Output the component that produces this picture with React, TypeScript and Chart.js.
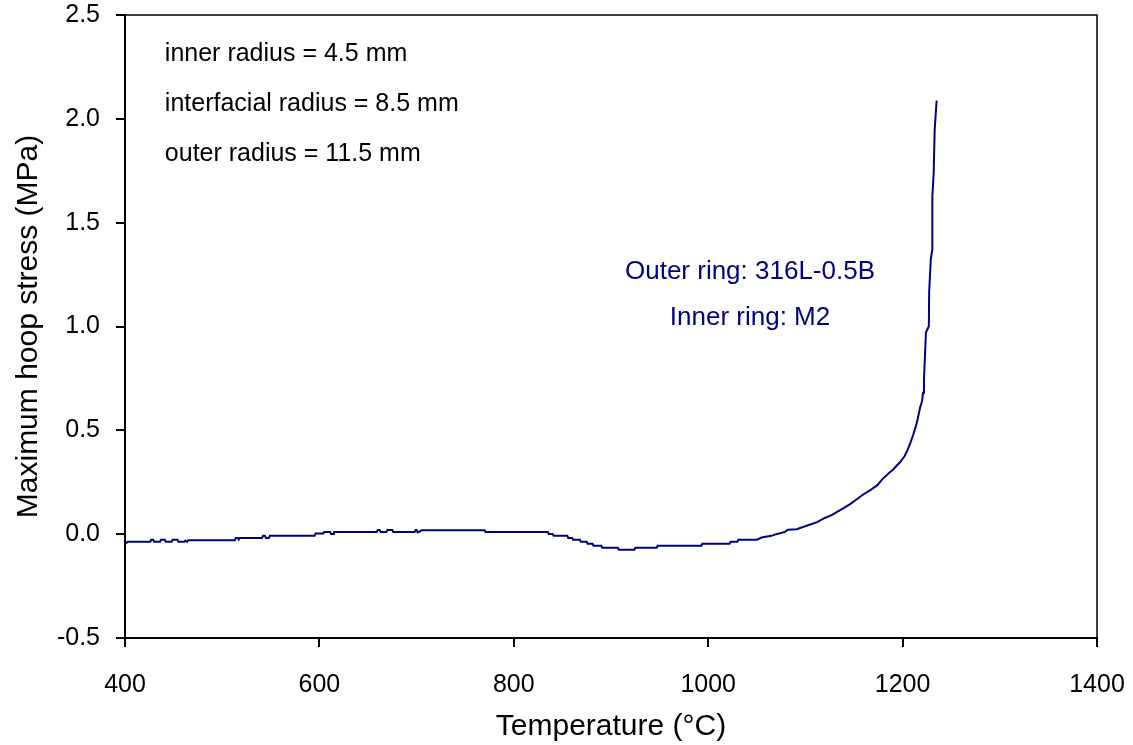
import React, { useEffect, useRef } from "react";
import { Chart, registerables } from "chart.js";

Chart.register(...registerables);

const FONT = "'Liberation Sans', Arial, Helvetica, sans-serif";
const NAVY = "#000080";

const xTitle = "Temperature (°C)";
const yTitle = "Maximum hoop stress (MPa)";
const xMin = 400, xMax = 1400, xStep = 200;
const yMin = -0.5, yMax = 2.5, yStep = 0.5;

const temperature = [
  400, 403, 426, 427, 429, 430, 436, 437, 441, 442, 448, 449, 454, 455, 461, 462, 464, 465,
  513, 514, 516, 517, 518, 541, 542, 544, 545, 548, 549, 595, 596, 604, 605, 611, 612, 614, 615,
  659, 660, 662, 663, 669, 670, 675, 676, 698, 699, 700, 701, 703, 705, 770, 771,
  835, 836, 840, 841, 855, 856, 860, 861, 868, 869, 875, 876, 881, 882, 890, 891, 907, 908,
  924, 925, 947, 948, 993, 994, 1022, 1023, 1030, 1031, 1050, 1055, 1065, 1070, 1079, 1082,
  1091, 1096, 1102, 1112, 1120, 1127, 1133, 1138, 1146, 1154, 1159, 1168, 1174, 1179, 1186,
  1190, 1197, 1202, 1205, 1208, 1211, 1214, 1216, 1218, 1220, 1221, 1222, 1224, 1227, 1227.3,
  1229, 1230.5, 1230.6, 1232, 1233, 1235,
];

// Maximum hoop stress (MPa) at each temperature above
const hoopStress = [
  -0.045, -0.037, -0.037, -0.027, -0.027, -0.037, -0.037, -0.027, -0.027, -0.037, -0.037, -0.027, -0.027, -0.037, -0.037, -0.031, -0.037, -0.029,
  -0.029, -0.018, -0.018, -0.026, -0.018, -0.018, -0.008, -0.008, -0.018, -0.018, -0.008, -0.008, 0.003, 0.003, 0.011, 0.011, 0.001, 0.001, 0.011,
  0.011, 0.02, 0.02, 0.011, 0.011, 0.02, 0.02, 0.011, 0.011, 0.02, 0.02, 0.008, 0.012, 0.019, 0.019, 0.011,
  0.011, 0.001, 0.001, -0.008, -0.008, -0.018, -0.018, -0.027, -0.027, -0.037, -0.037, -0.046, -0.046, -0.056, -0.056, -0.066, -0.066, -0.075,
  -0.075, -0.066, -0.066, -0.056, -0.056, -0.046, -0.046, -0.037, -0.037, -0.027, -0.027, -0.016, -0.008, 0.0, 0.011, 0.021,
  0.024, 0.032, 0.042, 0.058, 0.078, 0.092, 0.108, 0.122, 0.145, 0.172, 0.19, 0.216, 0.236, 0.264, 0.295,
  0.31, 0.345, 0.375, 0.405, 0.44, 0.48, 0.525, 0.565, 0.61, 0.64, 0.681, 0.745, 0.971, 1.001, 1.163,
  1.322, 1.37, 1.626, 1.74, 1.947, 2.088,
];

// Annotation texts, anchored in data coordinates [temperature, stress]
const geometryNotes = ["inner radius = 4.5 mm", "interfacial radius = 8.5 mm", "outer radius = 11.5 mm"];
const geometryNoteX = 441;
const geometryNoteY = [2.31, 2.07, 1.83];
const materialNotes = ["Outer ring: 316L-0.5B", "Inner ring: M2"];
const materialNoteX = 1043;
const materialNoteY = [1.265, 1.04];

const framePlugin = {
  id: "frame",
  afterDraw(chart: any) {
    const { ctx, chartArea } = chart;
    ctx.save();
    ctx.strokeStyle = "#000";
    ctx.lineWidth = 1.5;
    ctx.beginPath();
    ctx.moveTo(chartArea.left, chartArea.top);
    ctx.lineTo(chartArea.right, chartArea.top);
    ctx.lineTo(chartArea.right, chartArea.bottom);
    ctx.stroke();
    ctx.restore();
  },
};

const notesPlugin = {
  id: "notes",
  afterDraw(chart: any) {
    const { ctx, scales } = chart;
    const x = scales.x, y = scales.y;
    ctx.save();
    ctx.textBaseline = "middle";
    ctx.font = `25px ${FONT}`;
    ctx.fillStyle = "#000";
    ctx.textAlign = "left";
    geometryNotes.forEach((t, i) => {
      ctx.fillText(t, x.getPixelForValue(geometryNoteX), y.getPixelForValue(geometryNoteY[i]));
    });
    ctx.font = `26px ${FONT}`;
    ctx.fillStyle = NAVY;
    ctx.textAlign = "center";
    materialNotes.forEach((t, i) => {
      ctx.fillText(t, x.getPixelForValue(materialNoteX), y.getPixelForValue(materialNoteY[i]));
    });
    ctx.restore();
  },
};

export default function App() {
  const ref = useRef<HTMLCanvasElement>(null);
  useEffect(() => {
    if (!ref.current) return;
    const points = temperature.map((t, i) => ({ x: t, y: hoopStress[i] }));
    const chart = new Chart(ref.current, {
      type: "line",
      data: {
        datasets: [
          {
            data: points,
            borderColor: NAVY,
            borderWidth: 2,
            pointRadius: 0,
            tension: 0,
            fill: false,
          },
        ],
      },
      options: {
        animation: false,
        responsive: false,
        events: [],
        layout: { padding: 0 },
        plugins: { legend: { display: false }, tooltip: { enabled: false } },
        scales: {
          x: {
            type: "linear",
            min: xMin,
            max: xMax,
            afterFit: (s: any) => {
              s.height = 107;
              s.paddingLeft = 0;
              s.paddingRight = 36;
            },
            ticks: {
              stepSize: xStep,
              color: "#000",
              font: { family: FONT, size: 25 },
              padding: 23,
              maxRotation: 0,
              callback: (v: any) => String(v),
            },
            grid: { drawOnChartArea: false, drawTicks: true, tickLength: 9, color: "#000", lineWidth: 2 },
            border: { display: true, color: "#000", width: 2 },
            title: { display: true, text: xTitle, color: "#000", font: { family: FONT, size: 30 }, padding: { top: 0, bottom: 0 } },
          },
          y: {
            type: "linear",
            min: yMin,
            max: yMax,
            afterFit: (s: any) => {
              s.width = 125;
              s.paddingTop = 15;
              s.paddingBottom = 0;
            },
            ticks: {
              stepSize: yStep,
              color: "#000",
              font: { family: FONT, size: 25 },
              padding: 16,
              callback: (v: any) => Number(v).toFixed(1),
            },
            grid: { drawOnChartArea: false, drawTicks: true, tickLength: 9, color: "#000", lineWidth: 2 },
            border: { display: true, color: "#000", width: 2 },
            title: { display: true, text: yTitle, color: "#000", font: { family: FONT, size: 30 }, padding: { top: 11, bottom: 0 } },
          },
        },
      },
      plugins: [framePlugin, notesPlugin],
    } as any);
    return () => chart.destroy();
  }, []);
  return (
    <div style={{ position: "absolute", left: 0, top: 0, width: 1133, height: 745, background: "#fff" }}>
      <canvas ref={ref} width={1133} height={745} style={{ width: 1133, height: 745, display: "block" }} />
    </div>
  );
}
